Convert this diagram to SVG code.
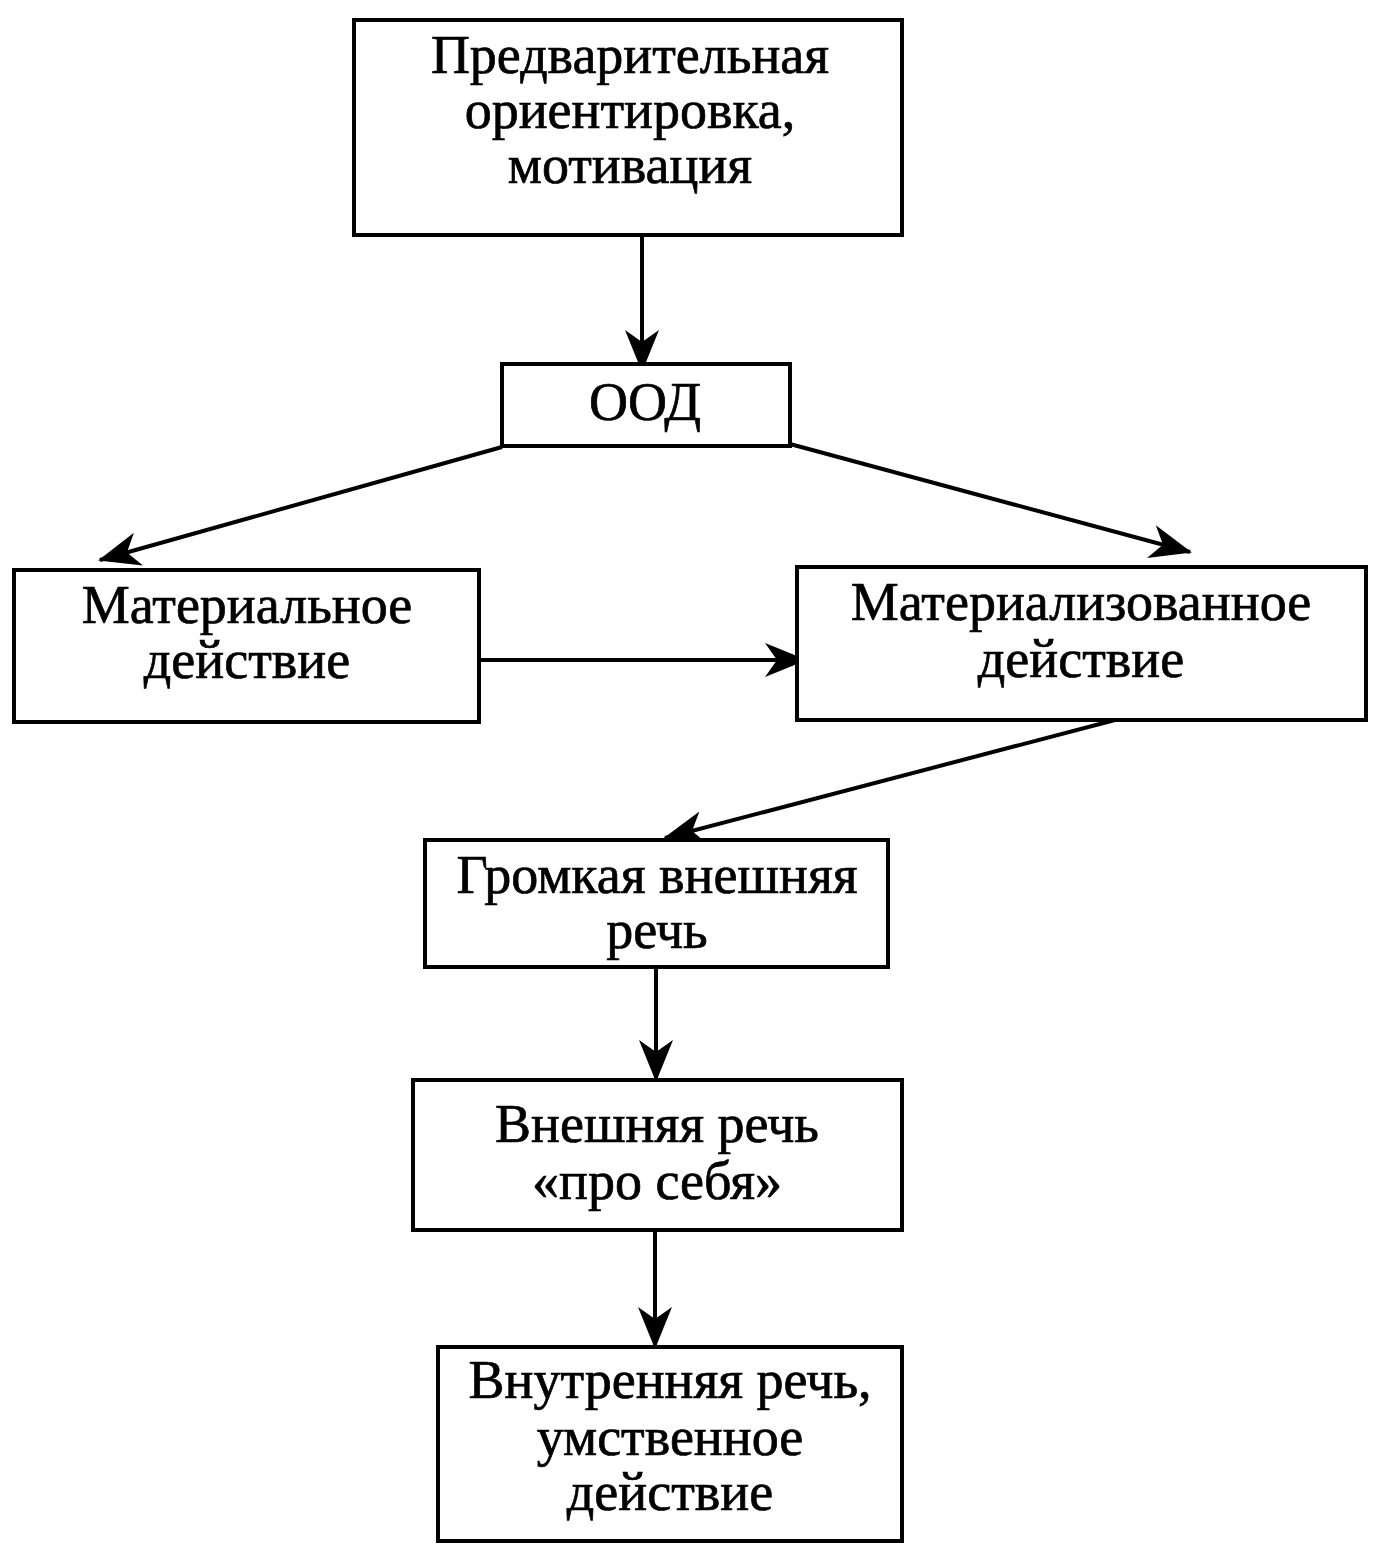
<svg xmlns="http://www.w3.org/2000/svg" width="1382" height="1561" viewBox="0 0 1382 1561">
<style>
.box{fill:#fff;stroke:#000;stroke-width:4}
.t{font-family:"Liberation Serif","Times New Roman",serif;font-size:54px;text-anchor:middle;fill:#000;stroke:#000;stroke-width:0.7}
.c{stroke:#000;stroke-width:4;fill:none;marker-end:url(#ah)}
</style>
<defs>
<marker id="ah" markerUnits="userSpaceOnUse" markerWidth="42" markerHeight="36" viewBox="0 0 42 36" refX="40" refY="18" orient="auto">
<path d="M0,1 L42,18 L0,35 L12,18 Z" fill="#000"/>
</marker>
</defs>
<rect width="1382" height="1561" fill="#fff"/>
<g id="connectors">
<line class="c" x1="642" y1="235" x2="642" y2="370"/>
<line class="c" x1="502" y1="447" x2="100" y2="560"/>
<line class="c" x1="790" y1="444" x2="1190" y2="552"/>
<line class="c" x1="472" y1="660" x2="805" y2="660"/>
<line class="c" x1="1115" y1="720" x2="665" y2="838"/>
<line class="c" x1="656" y1="965" x2="656" y2="1080"/>
<line class="c" x1="655" y1="1230" x2="655" y2="1347"/>
</g>
<g id="n1">
<rect class="box" x="354" y="20" width="548" height="215"/>
<text class="t" x="630" y="73">Предварительная</text>
<text class="t" x="630" y="128">ориентировка,</text>
<text class="t" x="630" y="183">мотивация</text>
</g>
<g id="n2">
<rect class="box" x="502" y="364" width="288" height="82"/>
<text class="t" x="645" y="420">ООД</text>
</g>
<g id="n3">
<rect class="box" x="14" y="570" width="465" height="152"/>
<text class="t" x="247" y="623">Материальное</text>
<text class="t" x="247" y="678">действие</text>
</g>
<g id="n4">
<rect class="box" x="797" y="567" width="569" height="153"/>
<text class="t" x="1081" y="620">Материализованное</text>
<text class="t" x="1081" y="677">действие</text>
</g>
<g id="n5">
<rect class="box" x="425" y="840" width="463" height="127"/>
<text class="t" x="657" y="893">Громкая внешняя</text>
<text class="t" x="657" y="948">речь</text>
</g>
<g id="n6">
<rect class="box" x="413" y="1080" width="489" height="150"/>
<text class="t" x="657" y="1142">Внешняя речь</text>
<text class="t" x="657" y="1199">«про себя»</text>
</g>
<g id="n7">
<rect class="box" x="438" y="1347" width="464" height="194"/>
<text class="t" x="670" y="1398">Внутренняя речь,</text>
<text class="t" x="670" y="1455">умственное</text>
<text class="t" x="670" y="1510">действие</text>
</g>
</svg>
